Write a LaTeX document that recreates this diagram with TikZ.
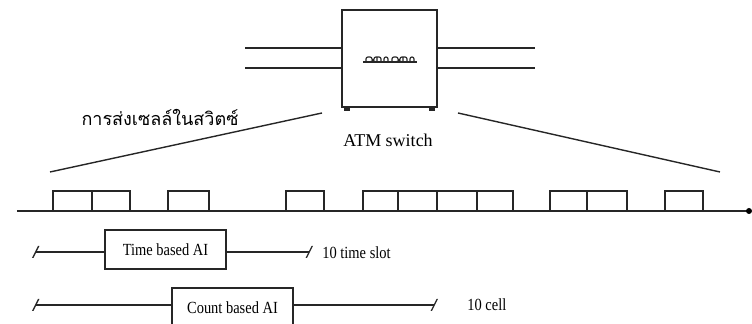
\documentclass[tikz,border=0pt]{standalone}
\usepackage{fontspec}
\setmainfont{Liberation Serif}
\newfontfamily\narrowfont[FakeStretch=0.85]{Liberation Serif}
\newfontfamily\thaifont[Script=Thai]{Loma}
\usetikzlibrary{arrows.meta,positioning,calc}
\tikzset{
  ln/.style    = {line width=0.7pt, black!85},
  sbox/.style  = {draw=black!85, line width=0.9pt, minimum width=47.5pt, minimum height=48.5pt, inner sep=0pt},
  aibox/.style = {draw=black!85, line width=0.8pt, inner sep=0pt, minimum height=19.5pt,
                  font=\narrowfont\fontsize{8.5}{10}\selectfont},
  tickL/.style = {{Bar[width=6pt,slant=0.5]}-},
  tickR/.style = {-{Bar[width=6pt,slant=0.5]}},
  lbl/.style   = {font=\narrowfont\fontsize{8.5}{10}\selectfont, anchor=west, inner sep=0pt},
  cell/.style  = {line width=0.7pt, black!85},
}
\begin{document}
\begin{tikzpicture}[x=0.5pt,y=-0.5pt]
\useasboundingbox (0,0) rectangle (752,324);
\clip (0,0) rectangle (752,324);
% switch
\node[sbox] (sw) at (389.5,58.5) {};
\fill[black!85] ($(sw.south west)+(3,-1)$) rectangle ++(6,4);
\fill[black!85] ($(sw.south east)+(-9,-1)$) rectangle ++(6,4);
\draw[ln] (363,62) -- (417,62);
\foreach \g in {366,392}
  \draw[ln, line width=0.6pt, rounded corners=1pt]
    (\g,61) -- (\g,57) -- (\g+6,57) -- (\g+6,61) -- (\g+8,61) -- (\g+8,57) -- (\g+15,57) -- (\g+15,61)
    (\g+11,57) -- (\g+11,61) (\g+18,61) -- (\g+18,57) -- (\g+22,57) -- (\g+22,61);
\coordinate (inA) at (245,48);
\coordinate (inB) at (245,68);
\coordinate (outA) at (535,48);
\coordinate (outB) at (535,68);
\draw[ln] (inA) -- (inA -| sw.west);
\draw[ln] (inB) -- (inB -| sw.west);
\draw[ln] (sw.east |- outA) -- (outA);
\draw[ln] (sw.east |- outB) -- (outB);
\node[font=\fontsize{9}{11}\selectfont] (swlbl) at (388,140) {ATM switch};
\node[font=\thaifont\fontsize{9}{11}\selectfont] (thai) at (160,117) {การส่งเซลล์ในสวิตซ์};
% fan-out to the cell stream
\coordinate (fanL) at (322,113);
\coordinate (fanR) at (458,113);
\coordinate (tlL) at (50,172);
\coordinate (tlR) at (720,172);
\draw[ln] (fanL) -- (tlL);
\draw[ln] (fanR) -- (tlR);
% cell stream
\coordinate (t0) at (17,211);
\coordinate (t1) at (749,211);
\draw[ln] (t0) -- (t1);
\fill[black] (t1) circle (3);
\foreach \a/\b in {53/92, 92/130, 168/209, 286/324, 363/398, 398/437,
                   437/477, 477/513, 550/587, 587/627, 665/703}
  \draw[cell] (\a,211) -- (\a,191) -- (\b,191) -- (\b,211);
% time based window
\node[aibox, minimum width=60.5pt] (tba) at (165.5,249.5) {Time based AI};
\coordinate (tbaL) at (35,252);
\coordinate (tbaR) at (310,252);
\draw[ln, tickL] (tbaL) -- (tbaL -| tba.west);
\draw[ln, tickR] (tba.east |- tbaR) -- (tbaR);
\node[lbl] (tbaN) at (322,253) {10 time slot};
% count based window
\node[aibox, minimum width=60.5pt, minimum height=20pt] (cba) at (232.5,308) {Count based AI};
\coordinate (cbaL) at (35,305);
\coordinate (cbaR) at (435,305);
\draw[ln, tickL] (cbaL) -- (cbaL -| cba.west);
\draw[ln, tickR] (cba.east |- cbaR) -- (cbaR);
\node[lbl] (cbaN) at (467,305) {10 cell};
\end{tikzpicture}
\end{document}
